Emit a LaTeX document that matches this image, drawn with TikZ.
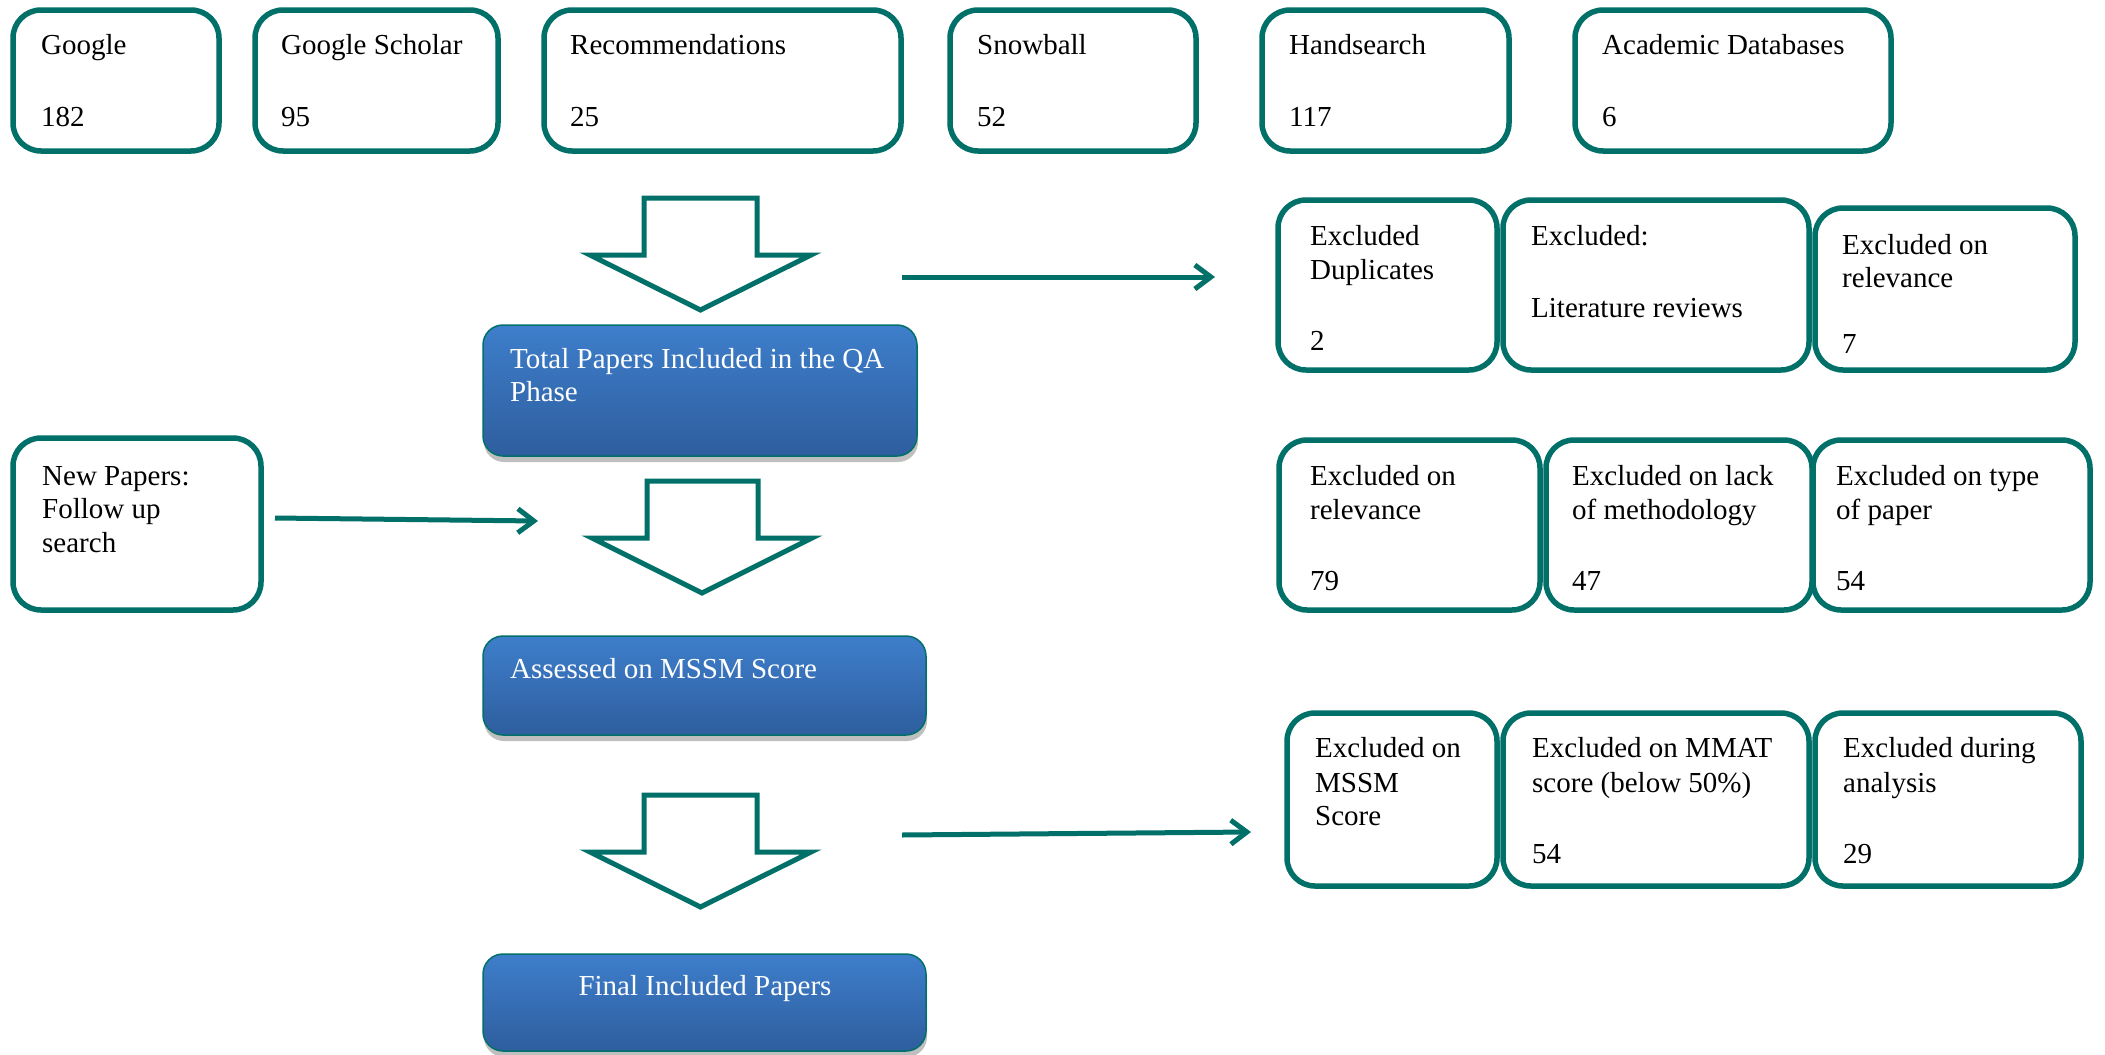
\documentclass[tikz,border=0pt]{standalone}
\usepackage{fontspec}
\setmainfont{Liberation Serif}
\usetikzlibrary{fit,shadows,arrows.meta}
\definecolor{tealc}{RGB}{0,112,104}
\definecolor{btop}{RGB}{62,126,203}
\definecolor{bbot}{RGB}{46,94,158}
\begin{document}
\begin{tikzpicture}[x=1pt,y=-1pt,
 ebox/.style={draw=tealc, line width=5.5pt, rounded corners=28pt, inner sep=0pt, fill=white},
 bbox/.style={draw=tealc, line width=1.5pt, rounded corners=20pt, inner sep=0pt, top color=btop, bottom color=bbot,
   drop shadow={shadow xshift=1pt, shadow yshift=-6pt, opacity=0.25, fill=black}},
 txt/.style={inner sep=0pt, anchor=base west, font=\fontsize{29}{34}\selectfont, text=black},
 wtxt/.style={txt, text=white},
 barrow/.style={draw=tealc, line width=5pt, fill=white, miter limit=20},
 conn/.style={draw=tealc, line width=5pt, -{Straight Barb[length=16pt,width=24pt]}}
]
\fill[white] (0,0) rectangle (2105,1055);
\useasboundingbox (0,0) rectangle (2105,1055);

% top row sources
\node[ebox, fit={(13,10) (219,151)}] (gg) {};
\node[ebox, fit={(255,10) (498,151)}] (gs) {};
\node[ebox, fit={(544,10) (901,151)}] (rec) {};
\node[ebox, fit={(950,10) (1196,151)}] (snow) {};
\node[ebox, fit={(1262,10) (1509,151)}] (hand) {};
\node[ebox, fit={(1575,10) (1891,151)}] (acad) {};
\node[txt] (ggt) at (41,54) {Google};
\node[txt] (ggn) at (41,126) {182};
\node[txt] (gst) at (281,54) {Google Scholar};
\node[txt] (gsn) at (281,126) {95};
\node[txt] (rect) at (570,54) {Recommendations};
\node[txt] (recn) at (570,126) {25};
\node[txt] (snowt) at (977,54) {Snowball};
\node[txt] (snown) at (977,126) {52};
\node[txt] (handt) at (1289,54) {Handsearch};
\node[txt] (handn) at (1289,126) {117};
\node[txt] (acadt) at (1602,54) {Academic Databases};
\node[txt] (acadn) at (1602,126) {6};

% block arrows
\draw[barrow] (644,198) -- (757,198) -- (757,255) -- (811,255) -- (700.5,310) -- (590,255) -- (644,255) -- cycle;
\draw[barrow] (647,481) -- (758,481) -- (758,538) -- (812,538) -- (702,593) -- (592,538) -- (647,538) -- cycle;
\draw[barrow] (644,795) -- (757,795) -- (757,852) -- (811,852) -- (700.5,907) -- (590,852) -- (644,852) -- cycle;

% blue process boxes
\node[bbox, fit={(483,325) (917,456)}] (total) {};
\node[wtxt] (totalt1) at (510,368) {Total Papers Included in the QA};
\node[wtxt] (totalt2) at (510,401) {Phase};
\node[bbox, fit={(483,636) (926,735)}] (assess) {};
\node[wtxt] (assesst) at (510,678) {Assessed on MSSM Score};
\node[bbox, fit={(483,954) (926,1051)}] (final) {};
\node[wtxt, anchor=base] (finalt) at (705,995) {Final Included Papers};

% new papers
\node[ebox, fit={(13,438) (261,610)}] (np) {};
\node[txt] (np1) at (42,485) {New Papers:};
\node[txt] (np2) at (42,518) {Follow up};
\node[txt] (np3) at (42,552) {search};

% exclusion row 1
\node[ebox, fit={(1278,200) (1497,370)}] (ed) {};
\node[ebox, fit={(1503,200) (1809,370)}] (el) {};
\node[ebox, fit={(1815,208) (2075,370)}] (er1) {};
\node[txt] (ed1) at (1310,245) {Excluded};
\node[txt] (ed2) at (1310,279) {Duplicates};
\node[txt] (edn) at (1310,350) {2};
\node[txt] (el1) at (1531,245) {Excluded:};
\node[txt] (el2) at (1531,317) {Literature reviews};
\node[txt] (er11) at (1842,254) {Excluded on};
\node[txt] (er12) at (1842,287) {relevance};
\node[txt] (er1n) at (1842,353) {7};

% exclusion row 2
\node[ebox, fit={(1279,440) (1540,610)}] (er2) {};
\node[ebox, fit={(1546,440) (1812,610)}] (em) {};
\node[ebox, fit={(1813,440) (2090,610)}] (et) {};
\node[txt] (er21) at (1310,485) {Excluded on};
\node[txt] (er22) at (1310,519) {relevance};
\node[txt] (er2n) at (1310,590) {79};
\node[txt] (em1) at (1572,485) {Excluded on lack};
\node[txt] (em2) at (1572,519) {of methodology};
\node[txt] (emn) at (1572,590) {47};
\node[txt] (et1) at (1836,485) {Excluded on type};
\node[txt] (et2) at (1836,519) {of paper};
\node[txt] (etn) at (1836,590) {54};

% exclusion row 3
\node[ebox, fit={(1287,713) (1497,886)}] (ems) {};
\node[ebox, fit={(1503,713) (1809,886)}] (emm) {};
\node[ebox, fit={(1815,713) (2081,886)}] (ea) {};
\node[txt] (ems1) at (1315,757) {Excluded on};
\node[txt] (ems2) at (1315,792) {MSSM};
\node[txt] (ems3) at (1315,825) {Score};
\node[txt] (emm1) at (1532,757) {Excluded on MMAT};
\node[txt] (emm2) at (1532,792) {score (below 50\%)};
\node[txt] (emmn) at (1532,863) {54};
\node[txt] (ea1) at (1843,757) {Excluded during};
\node[txt] (ea2) at (1843,792) {analysis};
\node[txt] (ean) at (1843,863) {29};

% connectors
\coordinate (a1s) at (902,277);
\coordinate (a1e) at (1215,277);
\coordinate (a2s) at (275,518);
\coordinate (a2e) at (538,521);
\coordinate (a3s) at (902,835);
\coordinate (a3e) at (1251,832);
\draw[conn] (a1s) -- (a1e);
\draw[conn] (a2s) -- (a2e);
\draw[conn] (a3s) -- (a3e);
\end{tikzpicture}
\end{document}
